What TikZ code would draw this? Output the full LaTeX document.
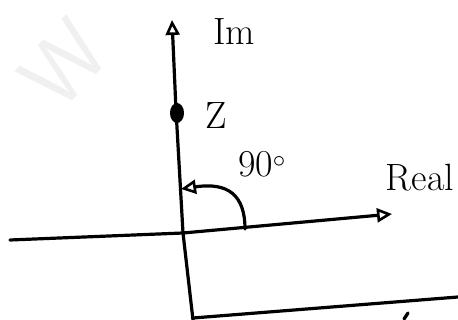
\documentclass[tikz,border=0pt]{standalone}
\usepackage{fontspec}
\usetikzlibrary{arrows.meta,positioning}
\begin{document}
\begin{tikzpicture}[x=1pt,y=-1pt,
  axisline/.style={line width=3.2pt,line cap=round},
  opentip/.style={-{Triangle[open,length=15pt,width=14pt,line width=2.6pt]}},
  lbl/.style={font=\fontsize{38}{40}\selectfont,inner sep=1pt}]
\useasboundingbox (0,0) rectangle (458,320);
% faint watermark
\node[text=black!6,font=\fontsize{90}{90}\sffamily,rotate=48] (mark) at (64,64) {W};
% axes
\coordinate (o) at (183,233);
\coordinate (imtop) at (172,20);
\coordinate (imbot) at (193,320);
\coordinate (releft) at (10,240);
\coordinate (reright) at (392,214);
\draw[axisline,opentip] (imbot) -- (o) -- (176,110) -- (imtop);
\draw[axisline,opentip] (releft) -- (o) -- (reright);
\draw[axisline] (193,318) -- (458,297);
\draw[axisline] (404,319) -- (408,313);
% point z
\fill (177,113) ellipse (7 and 10);
% angle
\coordinate (arcstart) at (245,229);
\coordinate (arcend) at (181,189);
\draw[axisline,opentip] (arcstart) .. controls (245,195) and (228,182) .. (arcend);
% labels
\node[lbl] (im) at (234,32) {Im};
\node[lbl] (z) at (216,116) {Z};
\node[lbl] (ang) at (262,164) {90$^\circ$};
\node[lbl] (re) at (420,178) {Real};
\end{tikzpicture}
\end{document}
